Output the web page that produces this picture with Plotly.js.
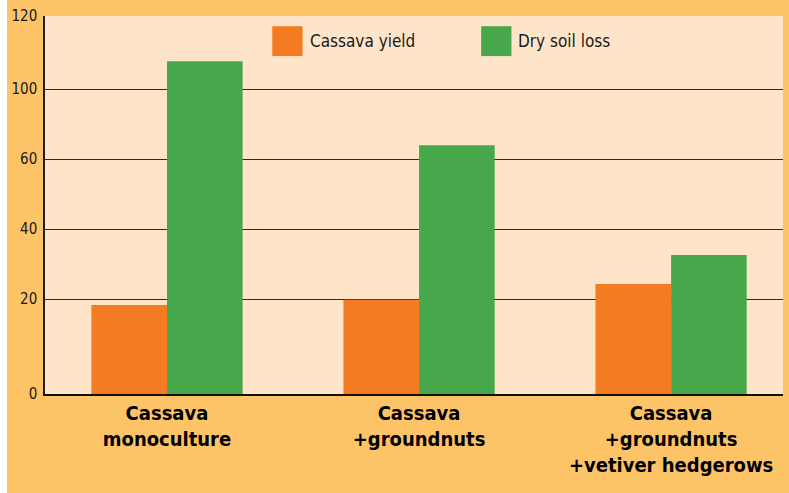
<!DOCTYPE html>
<html>
<head>
<meta charset="utf-8">
<script src="https://cdn.plot.ly/plotly-3.0.1.min.js"></script>
<style>
  html, body { margin: 0; padding: 0; background: #fff; }
  #chart { width: 789px; height: 493px; }
</style>
</head>
<body>
<div id="chart"></div>
<script>
// categories and series (values in the chart's own vertical units, 70px = one 20-step)
var categories = ['Cassava<br>monoculture', 'Cassava<br>+groundnuts', 'Cassava<br>+groundnuts<br>+vetiver hedgerows'];
var seriesNames = ['Cassava yield', 'Dry soil loss'];
var cassavaYield = [25.4, 26.9, 31.4];
var drySoilLoss = [95.1, 71.1, 39.7];

// the original axis is printed with uneven steps; labels sit at these positions
var tickPositions = [0, 27.1, 47.1, 67.1, 87.1, 108];
var tickLabels = ['0', '20', '40', '60', '100', '120'];

var orange = '#F47B21';
var green = '#47A84B';
var xs = [0, 1, 2];
var condensed = '"DejaVu Sans Condensed", "Liberation Sans Narrow", sans-serif';

var data = [{
    x: xs,
    y: cassavaYield,
    type: 'bar',
    name: seriesNames[0],
    marker: {color: orange},
    showlegend: false
}, {
    x: xs,
    y: drySoilLoss,
    type: 'bar',
    name: seriesNames[1],
    marker: {color: green},
    showlegend: false
}];

var layout = {
    width: 789,
    height: 493,
    margin: {l: 45, r: 6, t: 16, b: 99},
    paper_bgcolor: '#FDC467',
    plot_bgcolor: '#FEE5C9',
    barmode: 'group',
    bargap: 0.4,
    bargroupgap: 0,
    font: {family: condensed, color: '#1a1a1a'},
    xaxis: {
        range: [-0.484, 2.444],
        tickvals: xs,
        ticktext: categories,
        tickfont: {family: condensed, size: 20, color: '#000', weight: 'bold'},
        ticks: '',
        ticklabelstandoff: 0,
        showgrid: false,
        zeroline: false,
        showline: true,
        linecolor: '#111',
        linewidth: 2,
        fixedrange: true
    },
    yaxis: {
        range: [0, 108],
        tickvals: tickPositions,
        ticktext: tickLabels,
        tickfont: {family: condensed, size: 15, color: '#1a1a1a'},
        ticks: '',
        ticklabelstandoff: 3,
        showgrid: true,
        gridcolor: '#2b2b2b',
        gridwidth: 1,
        zeroline: false,
        showline: true,
        linecolor: '#1a1a1a',
        linewidth: 1.5,
        fixedrange: true
    },
    shapes: [
        // white strip along the left edge
        {type: 'rect', xref: 'paper', yref: 'paper', x0: -0.062, x1: -0.0515, y0: -0.27, y1: 1.05,
         fillcolor: '#ffffff', line: {width: 0}, layer: 'above'},
        // legend swatches
        {type: 'rect', xref: 'paper', yref: 'paper', x0: 0.308, x1: 0.349, y0: 0.894, y1: 0.973,
         fillcolor: orange, line: {width: 0}},
        {type: 'rect', xref: 'paper', yref: 'paper', x0: 0.591, x1: 0.632, y0: 0.894, y1: 0.973,
         fillcolor: green, line: {width: 0}}
    ],
    annotations: [
        {xref: 'paper', yref: 'paper', x: 0.356, y: 0.934, xanchor: 'left', yanchor: 'middle',
         text: seriesNames[0], showarrow: false, font: {family: condensed, size: 17, color: '#1a1a1a'}},
        {xref: 'paper', yref: 'paper', x: 0.638, y: 0.934, xanchor: 'left', yanchor: 'middle',
         text: seriesNames[1], showarrow: false, font: {family: condensed, size: 17, color: '#1a1a1a'}}
    ]
};

Plotly.newPlot('chart', data, layout, {displayModeBar: false, showLink: false});
</script>
</body>
</html>
